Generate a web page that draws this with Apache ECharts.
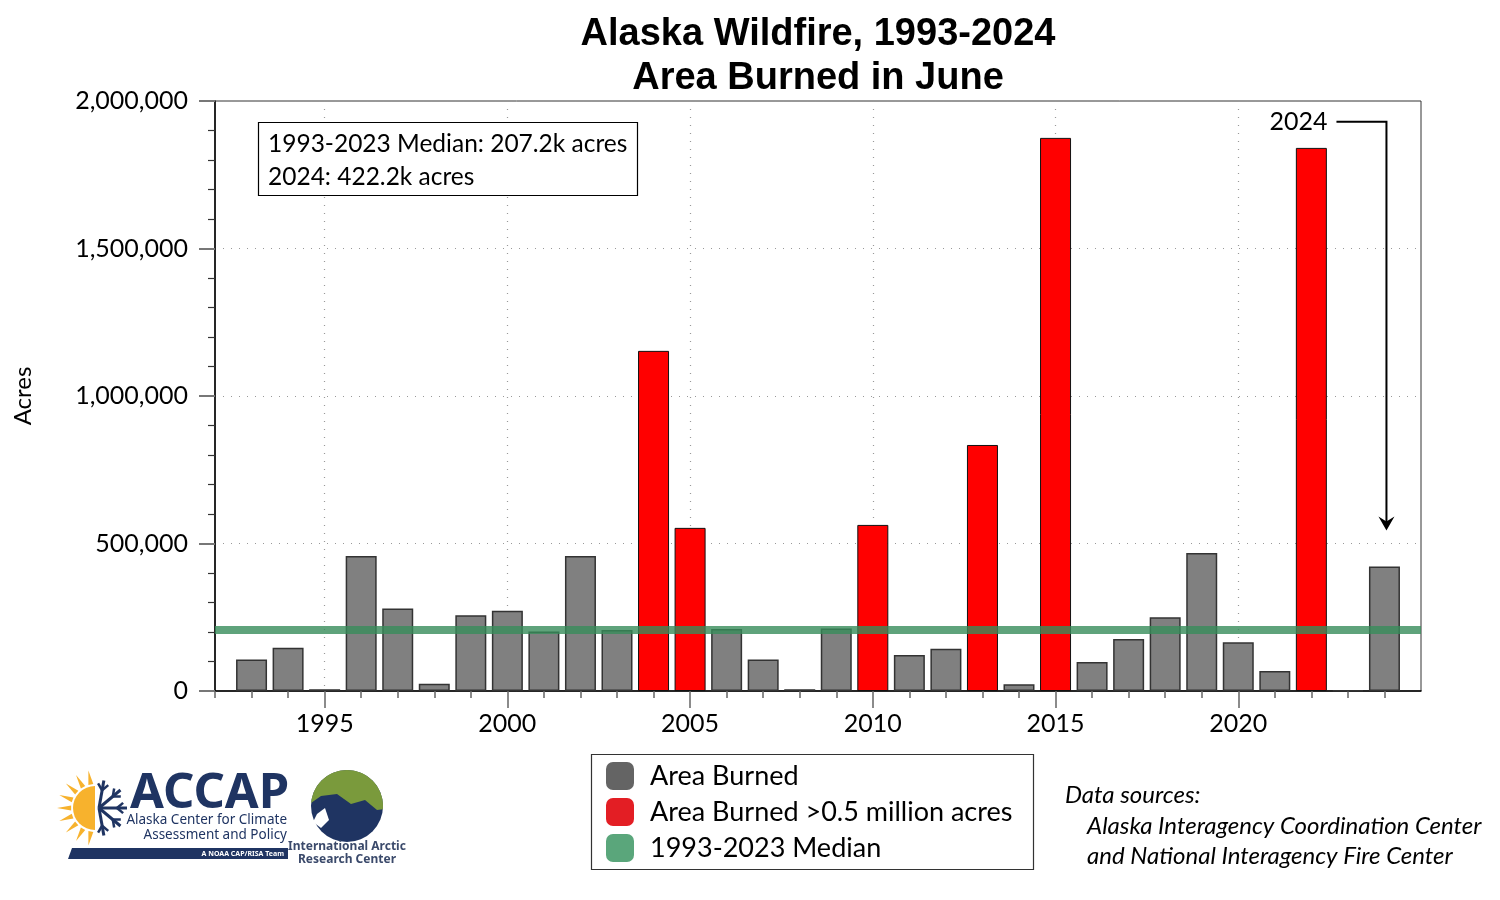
<!DOCTYPE html>
<html>
<head>
<meta charset="utf-8">
<script src="https://cdn.jsdelivr.net/npm/echarts@6/dist/echarts.min.js"></script>
<style>
html,body{margin:0;padding:0;background:#fff;}
#chart{width:1500px;height:900px;}
</style>
</head>
<body>
<div id="chart"></div>
<script>
// ---- data ----
const years = [1993,1994,1995,1996,1997,1998,1999,2000,2001,2002,2003,2004,2005,2006,2007,2008,
               2009,2010,2011,2012,2013,2014,2015,2016,2017,2018,2019,2020,2021,2022,2023,2024];
const acres = [107000,147000,6000,458000,280000,25000,257000,272000,202000,458000,207200,1153000,553000,210000,107000,6000,
               212000,563000,122000,143000,834000,23000,1875000,98000,176000,250000,468000,165000,68000,1841000,2000,422200];
const median = 207200;          // 1993-2023 median
const threshold = 500000;       // red bars above this
const axisStart = 1992, axisEnd = 2025;
const yTicks = [0, 500000, 1000000, 1500000, 2000000];

const seriesNames = ['Area Burned', 'Area Burned >0.5 million acres', '1993-2023 Median'];
const titleText = 'Alaska Wildfire, 1993-2024\nArea Burned in June';

// ---- derived ----
const cats = [];
for (let y = axisStart; y <= axisEnd; y++) cats.push(String(y));
const valOf = {};
years.forEach((y, i) => valOf[y] = acres[i]);
const grayData = cats.map(c => (valOf[c] !== undefined && valOf[c] <= threshold) ? valOf[c] : '-');
const redData  = cats.map(c => (valOf[c] !== undefined && valOf[c] > threshold) ? valOf[c] : '-');
const medData  = cats.map(() => median);
const lastYear = years[years.length - 1];
const lastVal = acres[acres.length - 1];

const FONT = 'Lato, "Noto Sans", sans-serif';
const NAVY = '#1f3462';
const lastIdx = cats.length - 1;
const isMajor = (idx) => (axisStart + idx) % 5 === 0 && idx > 0 && idx < lastIdx;

const chart = echarts.init(document.getElementById('chart'), null, {renderer: 'canvas'});

const option = {
  backgroundColor: '#fff',
  animation: false,
  textStyle: {fontFamily: FONT, color: '#000'},
  title: {
    text: titleText,
    left: 818, top: 13, textAlign: 'center', padding: 0,
    textStyle: {fontFamily: '"Liberation Sans", Arial, sans-serif', fontWeight: 'bold', fontSize: 38, lineHeight: 44, color: '#000'}
  },
  grid: {left: 215, right: 79, top: 101, bottom: 209, show: true, borderColor: '#333', borderWidth: 1, backgroundColor: 'transparent'},
  legend: {
    orient: 'vertical', left: 606, top: 762, itemWidth: 28, itemHeight: 28, itemGap: 8,
    padding: 0, selectedMode: false,
    textStyle: {fontFamily: FONT, fontSize: 27, color: '#000', padding: [0, 0, 0, 11]},
    data: [
      {name: seriesNames[0], icon: 'roundRect', itemStyle: {color: '#646464', borderWidth: 0}},
      {name: seriesNames[1], icon: 'roundRect', itemStyle: {color: '#e31e24', borderWidth: 0}},
      {name: seriesNames[2], icon: 'roundRect', itemStyle: {color: '#5aa67b', borderWidth: 0}, lineStyle: {width: 0}}
    ]
  },
  xAxis: [{
    type: 'category', data: cats, boundaryGap: false,
    axisLine: {onZero: false, lineStyle: {color: '#000', width: 1.5}},
    axisTick: {show: true, length: 17, interval: (i) => isMajor(i), lineStyle: {color: '#666', width: 1.5}},
    axisLabel: {interval: (i) => isMajor(i), fontSize: 25, margin: 20, color: '#000', fontFamily: FONT},
    splitLine: {show: true, interval: (i) => isMajor(i), lineStyle: {color: '#999', type: [1, 7], width: 1.2}}
  }, {
    type: 'category', data: cats, boundaryGap: false, position: 'bottom', offset: 0,
    axisLine: {show: true, onZero: false, lineStyle: {color: 'rgba(0,0,0,0)'}},
    axisTick: {show: true, length: 7, interval: (i) => i < lastIdx, lineStyle: {color: '#666', width: 1.5}},
    axisLabel: {show: false},
    splitLine: {show: false}
  }],
  yAxis: {
    type: 'value', min: yTicks[0], max: yTicks[yTicks.length - 1], interval: yTicks[1] - yTicks[0],
    name: 'Acres', nameLocation: 'middle', nameGap: 180, nameRotate: 90,
    nameTextStyle: {fontSize: 24, fontFamily: FONT, color: '#000'},
    axisLine: {show: true, lineStyle: {color: '#000', width: 1.5}},
    axisTick: {show: true, length: 16, lineStyle: {color: '#777', width: 2}},
    minorTick: {show: true, splitNumber: 5, length: 7, lineStyle: {color: '#333', width: 1.2}},
    axisLabel: {fontSize: 25, margin: 27, color: '#000', fontFamily: FONT,
                formatter: v => v.toLocaleString('en-US')},
    splitLine: {show: true, lineStyle: {color: '#999', type: [1, 7], width: 1.2}}
  },
  series: [{
    name: seriesNames[0], type: 'bar', xAxisIndex: 0, data: grayData, barWidth: 31, barGap: '-100%',
    itemStyle: {color: '#808080', borderColor: '#333', borderWidth: 1.5}, z: 2
  }, {
    name: seriesNames[1], type: 'bar', xAxisIndex: 0, data: redData, barWidth: 31, barGap: '-100%',
    itemStyle: {color: '#ff0000', borderColor: '#111', borderWidth: 1}, z: 2
  }, {
    name: seriesNames[2], type: 'line', xAxisIndex: 0, data: medData, showSymbol: false, symbol: 'none',
    lineStyle: {color: 'rgba(55,140,90,0.8)', width: 8}, itemStyle: {color: '#5aa67b'}, z: 5
  }]
};
chart.setOption(option);

// ---- annotations (positioned from the axes) ----
const px2024 = chart.convertToPixel({xAxisIndex: 0}, String(lastYear));
const pyTop = chart.convertToPixel({yAxisIndex: 0}, 1930000);
const pyTip = chart.convertToPixel({yAxisIndex: 0}, lastVal) - 36;
const ax = px2024 + 2;

// globe shapes
const gc = [347, 806], gr = 36;
const greenPts = [];
for (let a = -175; a <= 5; a += 5) {
  const r = a * Math.PI / 180;
  greenPts.push([gc[0] + gr * Math.cos(r), gc[1] + gr * Math.sin(r)]);
}
greenPts.push([gc[0] + 30, gc[1] + 4], [gc[0] + 18, gc[1] - 6], [gc[0] + 4, gc[1] - 2], [gc[0] - 10, gc[1] - 12], [gc[0] - 26, gc[1] - 10], [gc[0] - 36, gc[1] - 3]);

// sun rays
const sunC = [95, 808];
const rays = [];
for (let a = 100; a <= 260; a += 20) {
  const r = a * Math.PI / 180, r1 = (a - 6) * Math.PI / 180, r2 = (a + 6) * Math.PI / 180;
  rays.push({type: 'polygon', shape: {points: [
    [sunC[0] + 24 * Math.cos(r1), sunC[1] - 24 * Math.sin(r1)],
    [sunC[0] + 38 * Math.cos(r), sunC[1] - 38 * Math.sin(r)],
    [sunC[0] + 24 * Math.cos(r2), sunC[1] - 24 * Math.sin(r2)]]}, style: {fill: '#f7b22d'}});
}
const flake = [];
for (let a = -80; a <= 80; a += 40) {
  const r = a * Math.PI / 180;
  const ex = sunC[0] + 4 + 28 * Math.cos(r), ey = sunC[1] - 28 * Math.sin(r);
  flake.push({type: 'line', shape: {x1: sunC[0] + 4, y1: sunC[1], x2: ex, y2: ey}, style: {stroke: NAVY, lineWidth: 3}});
  const mx = sunC[0] + 4 + 18 * Math.cos(r), my = sunC[1] - 18 * Math.sin(r);
  const b1 = r + 0.7, b2 = r - 0.7;
  flake.push({type: 'line', shape: {x1: mx, y1: my, x2: mx + 8 * Math.cos(b1), y2: my - 8 * Math.sin(b1)}, style: {stroke: NAVY, lineWidth: 2.5}});
  flake.push({type: 'line', shape: {x1: mx, y1: my, x2: mx + 8 * Math.cos(b2), y2: my - 8 * Math.sin(b2)}, style: {stroke: NAVY, lineWidth: 2.5}});
}

chart.setOption({
  graphic: [
    // info box
    {type: 'rect', shape: {x: 258.5, y: 122.5, width: 379, height: 73}, style: {fill: '#fff', stroke: '#000', lineWidth: 1.2}, z: 10},
    {type: 'text', x: 268, y: 144, style: {text: '1993-2023 Median: ' + (median / 1000).toFixed(1) + 'k acres', font: '24.5px ' + FONT, fill: '#000', textVerticalAlign: 'middle'}, z: 11},
    {type: 'text', x: 268, y: 177, style: {text: lastYear + ': ' + (lastVal / 1000).toFixed(1) + 'k acres', font: '24.5px ' + FONT, fill: '#000', textVerticalAlign: 'middle'}, z: 11},
    // 2024 arrow
    {type: 'text', x: ax - 59, y: pyTop, style: {text: String(lastYear), font: '25px ' + FONT, fill: '#000', textAlign: 'right', textVerticalAlign: 'middle'}, z: 11},
    {type: 'polyline', shape: {points: [[ax - 50, pyTop], [ax, pyTop], [ax, pyTip - 6]]}, style: {stroke: '#000', lineWidth: 2, fill: null}, z: 11},
    {type: 'polygon', shape: {points: [[ax - 8, pyTip - 14], [ax, pyTip], [ax + 8, pyTip - 14], [ax, pyTip - 9]]}, style: {fill: '#000'}, z: 11},
    // legend frame
    {type: 'rect', shape: {x: 591.5, y: 754.5, width: 442, height: 115}, style: {fill: null, stroke: '#333', lineWidth: 1.2}, z: 1},
    // data sources
    {type: 'text', x: 1065, y: 795, style: {text: 'Data sources:', font: 'italic 24px ' + FONT, fill: '#000', textVerticalAlign: 'middle'}},
    {type: 'text', x: 1087, y: 826, style: {text: 'Alaska Interagency Coordination Center', font: 'italic 24px ' + FONT, fill: '#000', textVerticalAlign: 'middle'}},
    {type: 'text', x: 1087, y: 856, style: {text: 'and National Interagency Fire Center', font: 'italic 24px ' + FONT, fill: '#000', textVerticalAlign: 'middle'}},
    // ACCAP logo
    ...rays,
    {type: 'sector', shape: {cx: sunC[0], cy: sunC[1], r: 22, startAngle: Math.PI / 2, endAngle: Math.PI * 3 / 2}, style: {fill: '#f7b22d'}},
    ...flake,
    {type: 'text', x: 130, y: 794, style: {text: 'ACCAP', font: 'bold 49px "Noto Sans", sans-serif', fill: NAVY, textVerticalAlign: 'middle'}},
    {type: 'text', x: 287, y: 820, style: {text: 'Alaska Center for Climate', font: '13.5px "Noto Sans", sans-serif', fill: NAVY, textAlign: 'right', textVerticalAlign: 'middle'}},
    {type: 'text', x: 287, y: 835, style: {text: 'Assessment and Policy', font: '13.5px "Noto Sans", sans-serif', fill: NAVY, textAlign: 'right', textVerticalAlign: 'middle'}},
    {type: 'polygon', shape: {points: [[72, 848], [288, 848], [288, 859], [68, 859]]}, style: {fill: NAVY}},
    {type: 'text', x: 284, y: 854, style: {text: 'A NOAA CAP/RISA Team', font: 'bold 7px "Noto Sans", sans-serif', fill: '#fff', textAlign: 'right', textVerticalAlign: 'middle'}},
    // IARC logo
    {type: 'circle', shape: {cx: gc[0], cy: gc[1], r: gr}, style: {fill: NAVY}},
    {type: 'polygon', shape: {points: greenPts}, style: {fill: '#7a9a3c'}},
    {type: 'polygon', shape: {points: [[gc[0] - 30, gc[1] + 8], [gc[0] - 22, gc[1] + 2], [gc[0] - 18, gc[1] + 14], [gc[0] - 26, gc[1] + 22], [gc[0] - 34, gc[1] + 16]]}, style: {fill: '#fff'}},
    {type: 'text', x: 347, y: 847, style: {text: 'International Arctic', font: 'bold 12px "Noto Sans", sans-serif', fill: '#3b4a6b', textAlign: 'center', textVerticalAlign: 'middle'}},
    {type: 'text', x: 347, y: 860, style: {text: 'Research Center', font: 'bold 12px "Noto Sans", sans-serif', fill: '#3b4a6b', textAlign: 'center', textVerticalAlign: 'middle'}}
  ]
});
</script>
</body>
</html>
